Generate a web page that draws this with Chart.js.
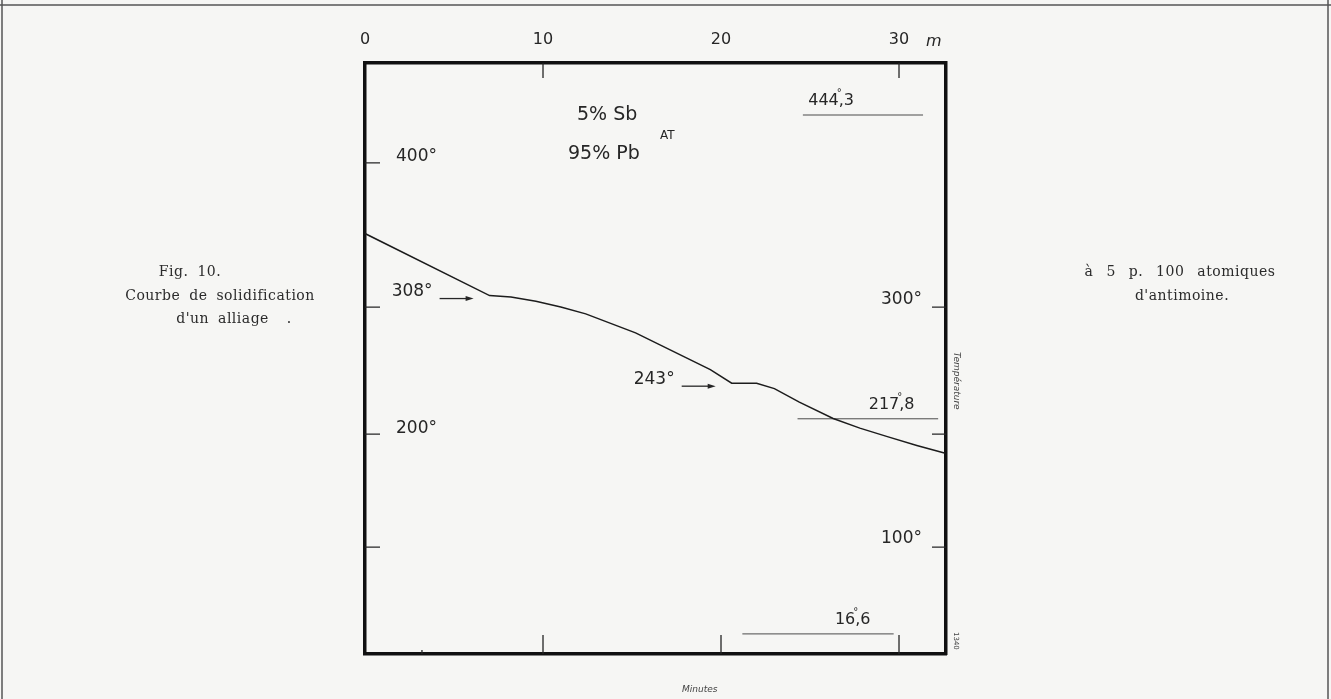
<!DOCTYPE html>
<html>
<head>
<meta charset="utf-8">
<script src="https://cdn.jsdelivr.net/npm/chart.js@4.4.1/dist/chart.umd.min.js"></script>
<style>
  html, body { margin: 0; padding: 0; background: #f6f6f4; }
  #wrap { position: relative; width: 1331px; height: 699px; overflow: hidden; }
  #coolingChart { position: absolute; left: 0; top: 0; }
  .cap { position: absolute; width: 240px; margin-left: -120px; text-align: center;
         font-family: "DejaVu Serif", serif; font-size: 14px; color: #2b2b2b;
         white-space: pre; letter-spacing: 0.5px; word-spacing: 4px; line-height: 16px; }
  .small { position: absolute; font-family: "DejaVu Sans", sans-serif; font-style: italic;
           font-size: 9px; color: #444; white-space: pre; }
</style>
</head>
<body>
<div id="wrap">
  <canvas id="coolingChart" width="1331" height="699"></canvas>
  <div class="cap" style="left:190px; top:263px;">Fig. 10.</div>
  <div class="cap" style="left:220px; top:287px;">Courbe de solidification</div>
  <div class="cap" style="left:234px; top:310px;">d'un alliage  .</div>
  <div class="cap" style="left:1180px; top:263px; word-spacing:8px;">à 5 p. 100 atomiques</div>
  <div class="cap" style="left:1182px; top:287px;">d'antimoine.</div>
  <div class="small" style="left:682px; top:684px;">Minutes</div>
  <div class="small" style="left:952px; top:352px; transform-origin:0 0; transform:rotate(90deg) translate(0,-10px);">Température</div>
  <div class="small" style="left:952px; top:632px; font-size:7px; font-style:normal; transform-origin:0 0; transform:rotate(90deg) translate(0,-8px);">1340</div>
</div>
<script>
// Courbe de refroidissement : temps (minutes) et température (°C)
const minutes = [0, 7.0, 8.2, 9.6, 11.0, 12.4, 13.8, 15.2, 16.6, 18.0, 19.4, 20.6, 22.0, 23.0, 24.4, 26.3, 27.8, 29.3, 31.0, 32.6];
const temperatures = [351, 308, 307, 304, 300, 295, 288, 281, 272, 263, 254, 244, 244, 240, 230, 218, 207, 198, 190, 183];

// étalonnage : température -> divisions du galvanomètre
const calTemps = [16.6, 100, 200, 217.8, 300, 400, 444.3];
const calDivisions = [3.4, 18.1, 37.2, 39.8, 58.7, 83.1, 91.2];

// axe des temps
const xTickMinutes = [0, 10, 20, 30];
const xTickLabels = ['0', '10', '20', '30'];
const topMarkMinutes = [10, 30];
const bottomMarkMinutes = [3.2, 10, 20, 30];

// graduations de température
const leftTemps = [400, 300, 200, 100];
const leftLabels = ['400°', '', '200°', ''];
const rightTemps = [300, 200, 100];
const rightLabels = ['300°', '', '100°'];

// points fixes (traits horizontaux)
const fixedTemps = [444.3, 217.8, 16.6];
const fixedLabels = ['444,3', '217,8', '16,6'];
const fixedFrom = [24.6, 24.3, 21.2];
const fixedTo = [31.35, 32.2, 29.7];
const fixedLabelAt = [24.9, 28.3, 26.4];

// arrêts signalés par une flèche
const arrestMinutes = [7.0, 20.6];
const arrestTemps = [308, 244];
const arrestLabels = ['308°', '243°'];

function toDivisions(t) {
    let i = 0;
    while (i < calTemps.length - 2 && t > calTemps[i + 1]) i++;
    const f = (t - calTemps[i]) / (calTemps[i + 1] - calTemps[i]);
    return calDivisions[i] + f * (calDivisions[i + 1] - calDivisions[i]);
}

const HAND = '"DejaVu Sans", sans-serif';
const INK = '#262626';

const pagePlugin = {
    id: 'page',
    beforeDraw(chart) {
        const { ctx, width, height } = chart;
        ctx.save();
        ctx.fillStyle = '#f6f6f4';
        ctx.fillRect(0, 0, width, height);
        ctx.strokeStyle = '#555';
        ctx.lineWidth = 1.5;
        ctx.beginPath();
        ctx.moveTo(0, 5); ctx.lineTo(width, 5);
        ctx.moveTo(2, 0); ctx.lineTo(2, height);
        ctx.moveTo(width - 3, 0); ctx.lineTo(width - 3, height);
        ctx.stroke();
        ctx.restore();
    }
};

const marksPlugin = {
    id: 'marks',
    afterDraw(chart) {
        const { ctx, chartArea: a, scales } = chart;
        const x = scales.x, y = scales.y;
        ctx.save();
        ctx.strokeStyle = INK;
        ctx.lineWidth = 1.3;
        ctx.beginPath();
        // graduations tournées vers l'intérieur
        topMarkMinutes.forEach(m => {
            const px = x.getPixelForValue(m);
            ctx.moveTo(px, a.top); ctx.lineTo(px, a.top + 15);
        });
        bottomMarkMinutes.forEach(m => {
            const px = x.getPixelForValue(m);
            ctx.moveTo(px, a.bottom); ctx.lineTo(px, a.bottom - (m % 10 === 0 ? 19 : 4));
        });
        leftTemps.forEach(t => {
            const py = y.getPixelForValue(toDivisions(t));
            ctx.moveTo(a.left, py); ctx.lineTo(a.left + 15, py);
        });
        rightTemps.forEach(t => {
            const py = y.getPixelForValue(toDivisions(t));
            ctx.moveTo(a.right, py); ctx.lineTo(a.right - 14, py);
        });
        ctx.stroke();

        // flèches des paliers
        ctx.fillStyle = INK;
        ctx.font = '17px ' + HAND;
        ctx.textBaseline = 'middle';
        arrestMinutes.forEach((m, i) => {
            const px = x.getPixelForValue(m) - 16;
            const py = y.getPixelForValue(toDivisions(arrestTemps[i])) + 3;
            ctx.beginPath();
            ctx.moveTo(px - 34, py); ctx.lineTo(px - 6, py);
            ctx.stroke();
            ctx.beginPath();
            ctx.moveTo(px, py); ctx.lineTo(px - 8, py - 2.5); ctx.lineTo(px - 8, py + 2.5); ctx.closePath();
            ctx.fill();
            ctx.textAlign = 'right';
            ctx.fillText(arrestLabels[i], px - 41, py - 7);
        });

        // points fixes
        ctx.font = '16px ' + HAND;
        ctx.textAlign = 'left';
        ctx.textBaseline = 'alphabetic';
        fixedLabels.forEach((txt, i) => {
            const px = x.getPixelForValue(fixedLabelAt[i]);
            const py = y.getPixelForValue(toDivisions(fixedTemps[i])) - 10;
            const parts = txt.split(',');
            ctx.fillText(txt, px, py);
            const w = ctx.measureText(parts[0]).width;
            ctx.font = '10px ' + HAND;
            ctx.fillText('°', px + w - 2, py - 9);
            ctx.font = '16px ' + HAND;
        });

        // composition
        ctx.font = '19px ' + HAND;
        ctx.fillText('5% Sb', a.left + 212, a.top + 57);
        ctx.fillText('95% Pb', a.left + 203, a.top + 96);
        ctx.font = '12px ' + HAND;
        ctx.fillText('AT', a.left + 295, a.top + 76);

        // unité de temps
        ctx.font = 'italic 16px ' + HAND;
        ctx.fillText('m', x.getPixelForValue(30) + 27, 46);
        ctx.restore();
    }
};

const frame = { display: true, width: 3.5, color: '#111' };
const noGrid = { display: false, drawTicks: false };

const ctx = document.getElementById('coolingChart').getContext('2d');
const coolingChart = new Chart(ctx, {
    type: 'line',
    data: {
        datasets: [
            {
                label: 'Refroidissement',
                data: minutes.map((m, i) => ({ x: m, y: toDivisions(temperatures[i]) })),
                borderColor: '#1c1c1c',
                borderWidth: 1.5,
                pointRadius: 0,
                tension: 0,
                xAxisID: 'x',
                yAxisID: 'y'
            },
            ...fixedTemps.map((t, i) => ({
                label: fixedLabels[i],
                data: [{ x: fixedFrom[i], y: toDivisions(t) }, { x: fixedTo[i], y: toDivisions(t) }],
                borderColor: '#4a4a4a',
                borderWidth: 1,
                pointRadius: 0,
                xAxisID: 'x',
                yAxisID: 'y'
            }))
        ]
    },
    options: {
        responsive: false,
        animation: false,
        layout: { padding: { left: 365, right: 385, top: 0, bottom: 45 } },
        plugins: {
            legend: { display: false },
            tooltip: { enabled: false }
        },
        scales: {
            x: {
                type: 'linear', position: 'bottom', min: 0, max: 32.64,
                ticks: { display: false },
                grid: noGrid,
                border: frame,
                afterFit(s) { s.height = 0; }
            },
            xTop: {
                type: 'linear', position: 'top', min: 0, max: 32.64,
                afterBuildTicks(s) { s.ticks = xTickMinutes.map(v => ({ value: v })); },
                ticks: {
                    callback: (v, i) => xTickLabels[i],
                    color: INK,
                    font: { family: HAND, size: 16 },
                    padding: 14,
                    maxRotation: 0
                },
                grid: noGrid,
                border: frame,
                afterFit(s) { s.height = 63; }
            },
            y: {
                type: 'linear', position: 'left', min: 0, max: 100,
                afterBuildTicks(s) { s.ticks = leftTemps.map(t => ({ value: toDivisions(t) })); },
                ticks: {
                    mirror: true,
                    padding: 31,
                    labelOffset: -6,
                    callback: (v, i) => leftLabels[i],
                    color: INK,
                    font: { family: HAND, size: 17 }
                },
                grid: noGrid,
                border: frame,
                afterFit(s) { s.width = 0; }
            },
            yRight: {
                type: 'linear', position: 'right', min: 0, max: 100,
                afterBuildTicks(s) { s.ticks = rightTemps.map(t => ({ value: toDivisions(t) })); },
                ticks: {
                    mirror: true,
                    padding: -24,
                    labelOffset: -8,
                    callback: (v, i) => rightLabels[i],
                    color: INK,
                    font: { family: HAND, size: 17 }
                },
                grid: noGrid,
                border: frame,
                afterFit(s) { s.width = 0; }
            }
        }
    },
    plugins: [pagePlugin, marksPlugin]
});
</script>
</body>
</html>
